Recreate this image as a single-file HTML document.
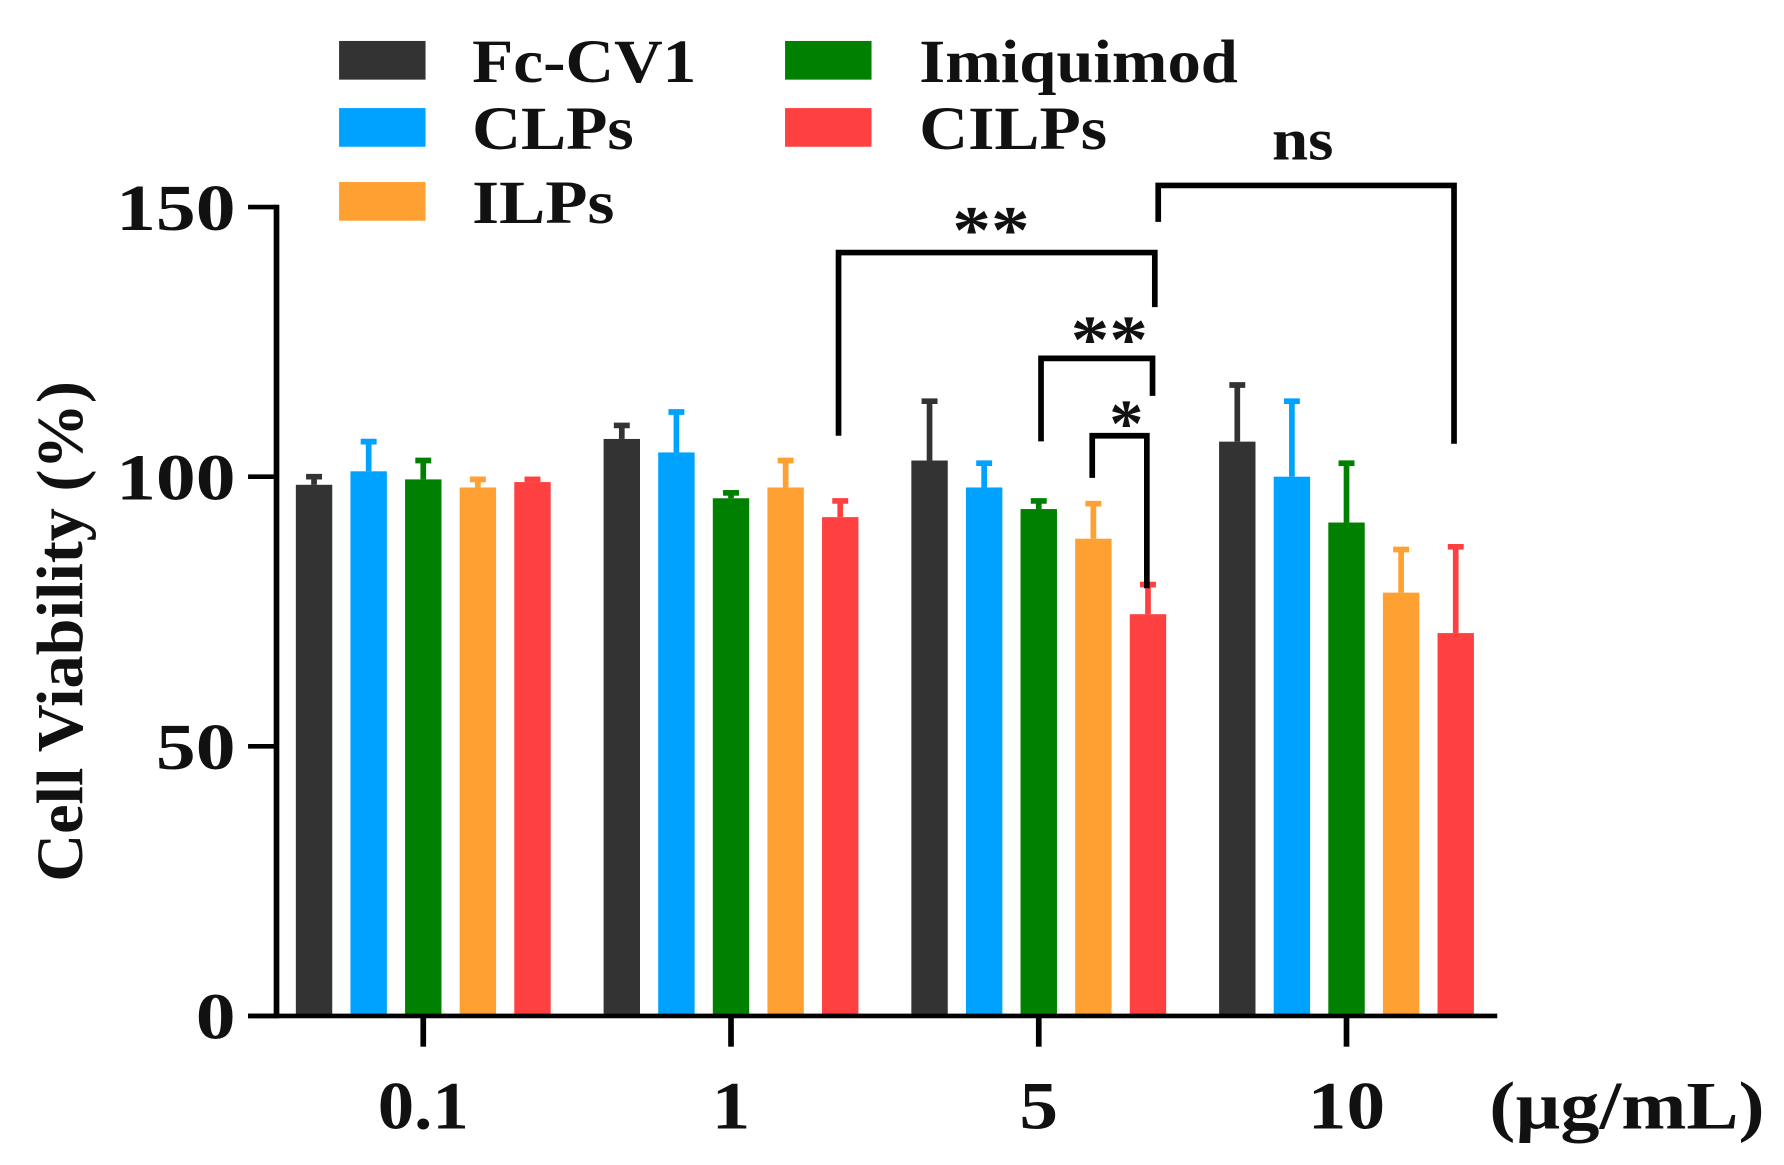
<!DOCTYPE html>
<html><head><meta charset="utf-8"><style>
html,body{margin:0;padding:0;background:#fff;width:1784px;height:1165px;overflow:hidden}
text{font-family:"Liberation Serif",serif;font-weight:bold;fill:#111}
</style></head><body>
<svg id="chart" width="1784" height="1165" viewBox="0 0 1568 1024" xmlns="http://www.w3.org/2000/svg">
<g id="plot"></g>
</svg>
<script>
const categories = ["0.1", "1", "5", "10"];
const seriesNames = ["Fc-CV1", "CLPs", "Imiquimod", "ILPs", "CILPs"];
const seriesColors = ["#333333", "#00a2ff", "#008000", "#ffa033", "#ff4040"];
const fcValues = [98.5, 107, 103, 106.5];
const fcErr = [1.5, 2.5, 11, 10.5];
const clpValues = [101, 104.5, 98, 100];
const clpErr = [5.5, 7.5, 4.5, 14];
const imqValues = [99.5, 96, 94, 91.5];
const imqErr = [3.5, 1, 1.5, 11];
const ilpValues = [98, 98, 88.5, 78.5];
const ilpErr = [1.5, 5, 6.5, 8];
const cilpValues = [99, 92.5, 74.5, 71];
const cilpErr = [0.5, 3, 5.5, 16];
const yTicks = [0, 50, 100, 150];

const values = [fcValues, clpValues, imqValues, ilpValues, cilpValues];
const errs = [fcErr, clpErr, imqErr, ilpErr, cilpErr];
const NS = "http://www.w3.org/2000/svg";
const g = document.getElementById('plot');
function el(t, a, parent){const e=document.createElementNS(NS,t);for(const k in a)e.setAttribute(k,a[k]);(parent||g).appendChild(e);return e;}
const y0=893, yPer=(893-182)/150;
function yS(v){return y0 - v*yPer;}
const groupX0=372, groupStep=270.5, barStep=48, barW=32;
function xS(ci, si){return groupX0 + ci*groupStep + (si-2)*barStep;}
function charW(s){return s.length*35;}

for(let s=0;s<5;s++){
  for(let c=0;c<4;c++){
    const cx=xS(c,s), v=values[s][c], e=errs[s][c];
    const r=el('rect',{x:cx-barW/2,y:yS(v),width:barW,height:y0-yS(v),fill:seriesColors[s]});
    
    
    const l=el('line',{x1:cx,x2:cx,y1:yS(v),y2:yS(v+e),stroke:seriesColors[s],'stroke-width':5});
    
    
    const cap=el('line',{x1:cx-7,x2:cx+7,y1:yS(v+e),y2:yS(v+e),stroke:seriesColors[s],'stroke-width':5});
    
    
  }
}
const ya=el('line',{x1:243,x2:243,y1:180,y2:895,stroke:'#000','stroke-width':5});


const xa=el('line',{x1:218,x2:1316,y1:893,y2:893,stroke:'#000','stroke-width':4});


yTicks.forEach(t=>{
  const tk=el('line',{x1:218,x2:243,y1:yS(t),y2:yS(t),stroke:'#000','stroke-width':4});
  
  
  const s=String(t);
  const tx=el('text',{x:207,y:yS(t)+20,'text-anchor':'end','font-size':58,textLength:charW(s),lengthAdjust:'spacingAndGlyphs'});
  tx.textContent=s;
  
  
});
categories.forEach((c,i)=>{
  const x=groupX0+i*groupStep;
  const tk=el('line',{x1:x,x2:x,y1:893,y2:920,stroke:'#000','stroke-width':5});
  
  
  const tx=el('text',{x:x,y:992,'text-anchor':'middle','font-size':60,textLength:c.length===3?80:c.length*34,lengthAdjust:'spacingAndGlyphs'});
  tx.textContent=c;
  
  
});
const unit=el('text',{x:1430,y:992,'text-anchor':'middle','font-size':60,textLength:242,lengthAdjust:'spacingAndGlyphs'});
unit.textContent='(µg/mL)';


const yt=el('text',{x:0,y:0,'text-anchor':'middle','font-size':58,textLength:440,lengthAdjust:'spacingAndGlyphs',transform:'translate(72,555) rotate(-90)'});
yt.textContent='Cell Viability (%)';



const legW={"Fc-CV1":197,"CLPs":142,"ILPs":125,"Imiquimod":280,"CILPs":165};
const leg=[[0,298,53,415],[1,298,112,415],[3,298,177,415],[2,690,53,808],[4,690,112,808]];
leg.forEach(([s,x,yc,tx])=>{
  const r=el('rect',{x:x,y:yc-17,width:76,height:34,fill:seriesColors[s]});
  
  
  const t=el('text',{x:tx,y:yc+19,'font-size':54,textLength:legW[seriesNames[s]],lengthAdjust:'spacingAndGlyphs'});
  t.textContent=seriesNames[s];
  
  
});

const brackets=[
  {pts:'737,383 737,222 1015,222 1015,270', label:'**', lx:871, ly:222, w:68},
  {pts:'1018,195 1018,163 1278,163 1278,390', label:'ns', lx:1145, ly:140, w:54},
  {pts:'915,388 915,315 1013,315 1013,348', label:'**', lx:975, ly:318, w:68},
  {pts:'960,420 960,383 1008,383 1008,517', label:'*', lx:990, ly:392, w:30}
];
brackets.forEach(b=>{
  const p=el('polyline',{points:b.pts,fill:'none',stroke:'#000','stroke-width':5});
  
  
  const t=el('text',{x:b.lx,y:b.ly,'text-anchor':'middle','font-size':b.label==='ns'?52:60,textLength:b.w,lengthAdjust:'spacingAndGlyphs'});
  t.textContent=b.label;
  
  
});
</script>
</body></html>
